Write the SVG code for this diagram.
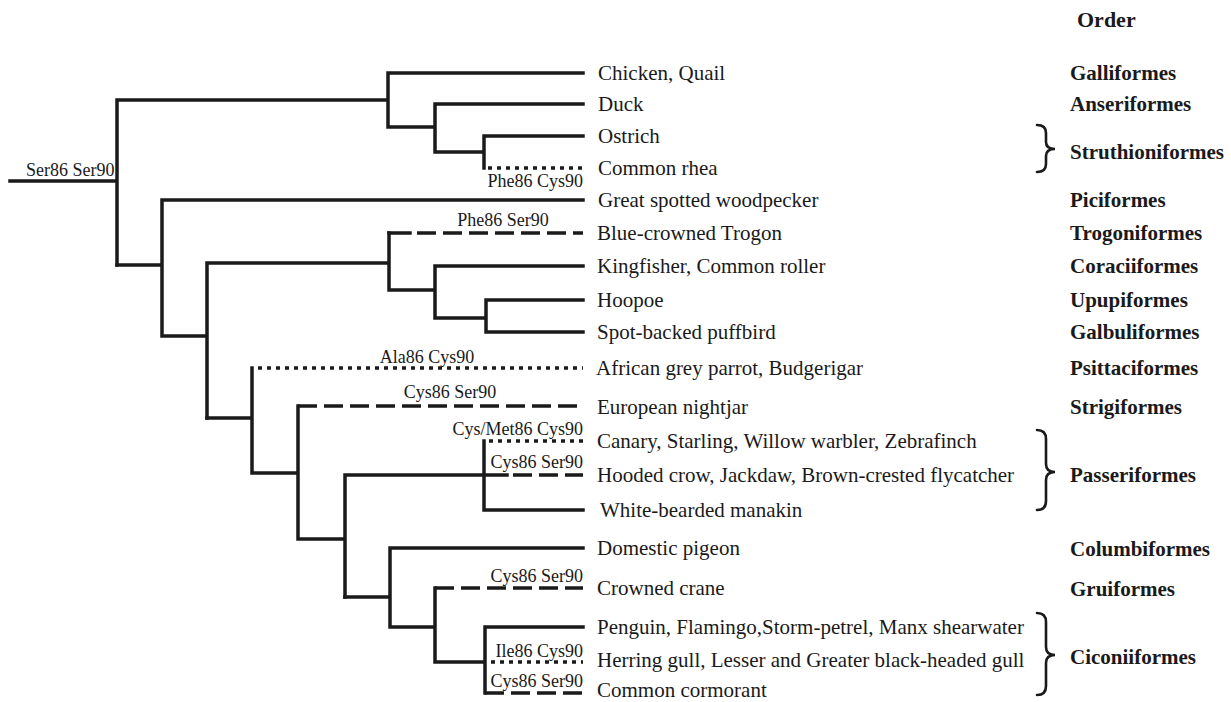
<svg xmlns="http://www.w3.org/2000/svg" width="1231" height="702" viewBox="0 0 1231 702">
<style>
.e{fill:none;stroke:#1a1a1a;stroke-width:3.5;stroke-linecap:square;stroke-linejoin:miter}
.dot{fill:none;stroke:#1a1a1a;stroke-width:3.5;stroke-dasharray:4 5}
.dash{fill:none;stroke:#1a1a1a;stroke-width:3.5;stroke-dasharray:19 7}
.br{fill:none;stroke:#1a1a1a;stroke-width:2.6;stroke-linecap:round}
.sp{font-family:"Liberation Serif","Times New Roman",serif;font-size:21px;fill:#1a1a1a}
.mu{font-family:"Liberation Serif","Times New Roman",serif;font-size:18px;fill:#1a1a1a}
.or{font-family:"Liberation Serif","Times New Roman",serif;font-size:21px;font-weight:bold;fill:#1a1a1a}
</style>
<rect width="1231" height="702" fill="#ffffff"/>
<g id="connectors">
<path class="e" d="M10,181 H117 M117,100 V265 M117,100 H388 M388,73 V127 M388,73 H583 M388,127 H435 M435,104 V152 M435,104 H583 M435,152 H484 M484,136 V168 M484,136 H583"/>
<path class="dot" d="M488,168 H583"/>
<path class="e" d="M117,265 H162 M162,200 V336 M162,200 H583 M162,336 H207 M207,263 V418 M207,263 H389 M389,233 V290 M389,290 H435 M435,266 V318 M435,266 H583 M435,318 H486 M486,300 V332 M486,300 H583 M486,332 H583"/>
<path class="e" d="M389,233 H410"/>
<path class="dash" d="M417,233 H583"/>
<path class="e" d="M207,418 H252 M252,368 V473 M252,473 H298 M298,406 V539 M298,539 H345 M345,475 V597 M345,475 H507 M484,441 V510 M484,510 H583"/>
<path class="dot" d="M258,368 H583"/>
<path class="dash" d="M298,406 H583"/>
<path class="dot" d="M489,441 H583"/>
<path class="dash" d="M513,475 H583"/>
<path class="e" d="M345,597 H390 M390,548 V627 M390,548 H583 M390,627 H435 M435,588 V662 M435,662 H485 M485,627 V693 M485,627 H583"/>
<path class="dash" d="M435,588 H583"/>
<path class="dot" d="M491,662 H583"/>
<path class="dash" d="M485,693 H583"/>
</g>
<g id="mutations">
<text class="mu" x="26" y="176">Ser86 Ser90</text>
<text class="mu" x="583" y="187" text-anchor="end">Phe86 Cys90</text>
<text class="mu" x="503" y="226" text-anchor="middle">Phe86 Ser90</text>
<text class="mu" x="427" y="363" text-anchor="middle">Ala86 Cys90</text>
<text class="mu" x="450" y="398" text-anchor="middle">Cys86 Ser90</text>
<text class="mu" x="583" y="435" text-anchor="end">Cys/Met86 Cys90</text>
<text class="mu" x="583" y="468" text-anchor="end">Cys86 Ser90</text>
<text class="mu" x="583" y="582" text-anchor="end">Cys86 Ser90</text>
<text class="mu" x="583" y="657" text-anchor="end">Ile86 Cys90</text>
<text class="mu" x="583" y="687" text-anchor="end">Cys86 Ser90</text>
</g>
<g id="leaf-chicken"><text class="sp" x="598" y="80">Chicken, Quail</text></g>
<g id="leaf-duck"><text class="sp" x="598" y="111">Duck</text></g>
<g id="leaf-ostrich"><text class="sp" x="598" y="143">Ostrich</text></g>
<g id="leaf-rhea"><text class="sp" x="598" y="175">Common rhea</text></g>
<g id="leaf-woodpecker"><text class="sp" x="598" y="207">Great spotted woodpecker</text></g>
<g id="leaf-trogon"><text class="sp" x="597" y="240">Blue-crowned Trogon</text></g>
<g id="leaf-kingfisher"><text class="sp" x="597" y="273">Kingfisher, Common roller</text></g>
<g id="leaf-hoopoe"><text class="sp" x="597" y="307">Hoopoe</text></g>
<g id="leaf-puffbird"><text class="sp" x="597" y="339">Spot-backed puffbird</text></g>
<g id="leaf-parrot"><text class="sp" x="596" y="375">African grey parrot, Budgerigar</text></g>
<g id="leaf-nightjar"><text class="sp" x="597" y="414">European nightjar</text></g>
<g id="leaf-canary"><text class="sp" x="597" y="448">Canary, Starling, Willow warbler, Zebrafinch</text></g>
<g id="leaf-crow"><text class="sp" x="597" y="482">Hooded crow, Jackdaw, Brown-crested flycatcher</text></g>
<g id="leaf-manakin"><text class="sp" x="600" y="517">White-bearded manakin</text></g>
<g id="leaf-pigeon"><text class="sp" x="597" y="555">Domestic pigeon</text></g>
<g id="leaf-crane"><text class="sp" x="597" y="595">Crowned crane</text></g>
<g id="leaf-penguin"><text class="sp" x="597" y="634">Penguin, Flamingo,Storm-petrel, Manx shearwater</text></g>
<g id="leaf-gull"><text class="sp" x="597" y="667">Herring gull, Lesser and Greater black-headed gull</text></g>
<g id="leaf-cormorant"><text class="sp" x="597" y="697">Common cormorant</text></g>
<g id="orders">
<text class="or" x="1077" y="27" style="font-size:22px">Order</text>
<text class="or" x="1070" y="80">Galliformes</text>
<text class="or" x="1070" y="111">Anseriformes</text>
<text class="or" x="1070" y="159">Struthioniformes</text>
<text class="or" x="1070" y="207">Piciformes</text>
<text class="or" x="1070" y="240">Trogoniformes</text>
<text class="or" x="1070" y="273">Coraciiformes</text>
<text class="or" x="1070" y="307">Upupiformes</text>
<text class="or" x="1070" y="339">Galbuliformes</text>
<text class="or" x="1070" y="375">Psittaciformes</text>
<text class="or" x="1070" y="414">Strigiformes</text>
<text class="or" x="1070" y="482">Passeriformes</text>
<text class="or" x="1070" y="556">Columbiformes</text>
<text class="or" x="1070" y="596">Gruiformes</text>
<text class="or" x="1070" y="664">Ciconiiformes</text>
</g>
<g id="braces">
<path class="br" d="M1037,125 Q1046,125 1046,133 L1046,142 Q1046,149 1055,149 Q1046,149 1046,156 L1046,164 Q1046,172 1037,172"/>
<path class="br" d="M1037,430 Q1046,430 1046,439 L1046,464 Q1046,472 1055,472 Q1046,472 1046,480 L1046,501 Q1046,510 1037,510"/>
<path class="br" d="M1037,613 Q1046,613 1046,622 L1046,647 Q1046,655 1055,655 Q1046,655 1046,663 L1046,686 Q1046,695 1037,695"/>
</g>
</svg>
